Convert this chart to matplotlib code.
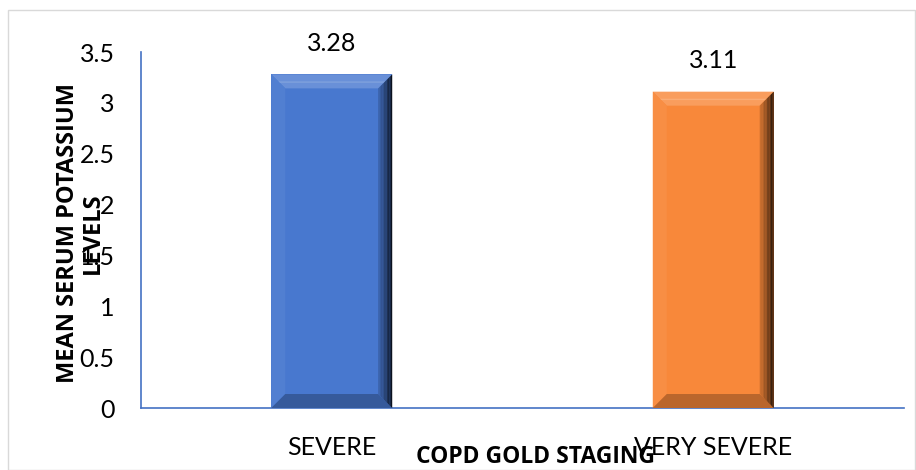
import matplotlib
matplotlib.use("Agg")
import matplotlib.pyplot as plt
import numpy as np
from matplotlib.patches import Polygon, Rectangle
from matplotlib.colors import to_rgb

categories = ["SEVERE", "VERY SEVERE"]
values = [3.28, 3.11]
value_labels = ["3.28", "3.11"]
colors = ["#4878CF", "#F8883A"]
yticks = [0, 0.5, 1, 1.5, 2, 2.5, 3, 3.5]
ytick_labels = ["0", "0.5", "1", "1.5", "2", "2.5", "3", "3.5"]

FONT = ["Lato", "DejaVu Sans"]
BFONT = ["Open Sans", "DejaVu Sans"]
plt.rcParams['font.family'] = FONT

W, H = 916, 470
fig = plt.figure(figsize=(W/100, H/100), dpi=100)
ax = fig.add_axes([141/W, 1-408/H, (904-141)/W, (408-52)/H])

x = np.arange(len(categories))
bw = 0.317
bars = ax.bar(x, values, width=bw, color=colors, zorder=2)
ax.set_xlim(-0.5, 1.5)
ax.set_ylim(0, 3.5)

ax.set_yticks(yticks)
ax.set_yticklabels(ytick_labels, fontsize=18)
ax.set_xticks(x)
ax.set_xticklabels(categories, fontsize=18)
ax.tick_params(axis='y', length=0, pad=19)
ax.tick_params(axis='x', length=0, pad=20)
for s in ['top', 'right']:
    ax.spines[s].set_visible(False)
for s in ['left', 'bottom']:
    ax.spines[s].set_color('#4472C4')
    ax.spines[s].set_linewidth(1.2)

for xi, v, lab in zip(x, values, value_labels):
    ax.annotate(lab, (xi, v), xytext=(0, 14), textcoords='offset points',
                ha='center', va='bottom', fontsize=18)

# bevel effect
axw = (904-141); axh = (408-52)
sx = 2.0/axw   # data per px in x
sy = 3.5/axh
b = 14  # bevel px

def mix(c, t, f):
    c = np.array(to_rgb(c)); t = np.array(to_rgb(t))
    return tuple(c*(1-f) + t*f)

for rect, col in zip(bars, colors):
    x0 = rect.get_x(); x1 = x0 + rect.get_width()
    y0 = 0; y1 = rect.get_height()
    bx = b*sx; by = b*sy
    ax.add_patch(Polygon([(x0, y1), (x1, y1), (x1-bx, y1-by), (x0+bx, y1-by)],
                         closed=True, color=mix(col, 'white', 0.18), lw=0, zorder=3))
    ax.add_patch(Polygon([(x0+bx*0.5, y1-by*0.5), (x1-bx*0.5, y1-by*0.5),
                          (x1-bx*0.6, y1-by*0.6), (x0+bx*0.6, y1-by*0.6)],
                         closed=True, color=mix(col, 'white', 0.3), lw=0, zorder=3))
    ax.add_patch(Polygon([(x0, y0), (x0, y1), (x0+bx, y1-by), (x0+bx, y0+by)],
                         closed=True, color=mix(col, 'white', 0.05), lw=0, zorder=3))
    ax.add_patch(Polygon([(x0, y0), (x1, y0), (x1-bx, y0+by), (x0+bx, y0+by)],
                         closed=True, color=mix(col, 'black', 0.25), lw=0, zorder=3))
    n = 10
    for i in range(n):
        f0 = i/n; f1 = (i+1)/n
        xa = x1 - bx*(1-f0); xb = x1 - bx*(1-f1)
        ya = by*(1-f0); yb = by*(1-f1)
        ax.add_patch(Polygon([(xa, y0+ya), (xa, y1-ya), (xb, y1-yb), (xb, y0+yb)],
                             closed=True, color=mix(col, 'black', 0.15+0.7*f1**1.3), lw=0, zorder=3))

ax.set_xlabel("COPD GOLD STAGING", fontsize=16.5, fontweight='bold', family=BFONT)
ax.xaxis.label.set_va('center')
ax.xaxis.set_label_coords((535-141)/axw, -(457-408)/axh)
ax.set_ylabel("MEAN SERUM POTASSIUM\nLEVELS", fontsize=17, fontweight='bold',
              family=BFONT, linespacing=1.0)
ax.yaxis.label.set_va('center')
ax.yaxis.set_label_coords(-(141-80.5)/axw, (408-233)/axh)

fig.add_artist(Rectangle((8/W, 0), (W-9)/W, 1-10/H, transform=fig.transFigure,
                         fill=False, edgecolor='#d9d9d9', lw=1))

fig.savefig("out.png", dpi=100)
